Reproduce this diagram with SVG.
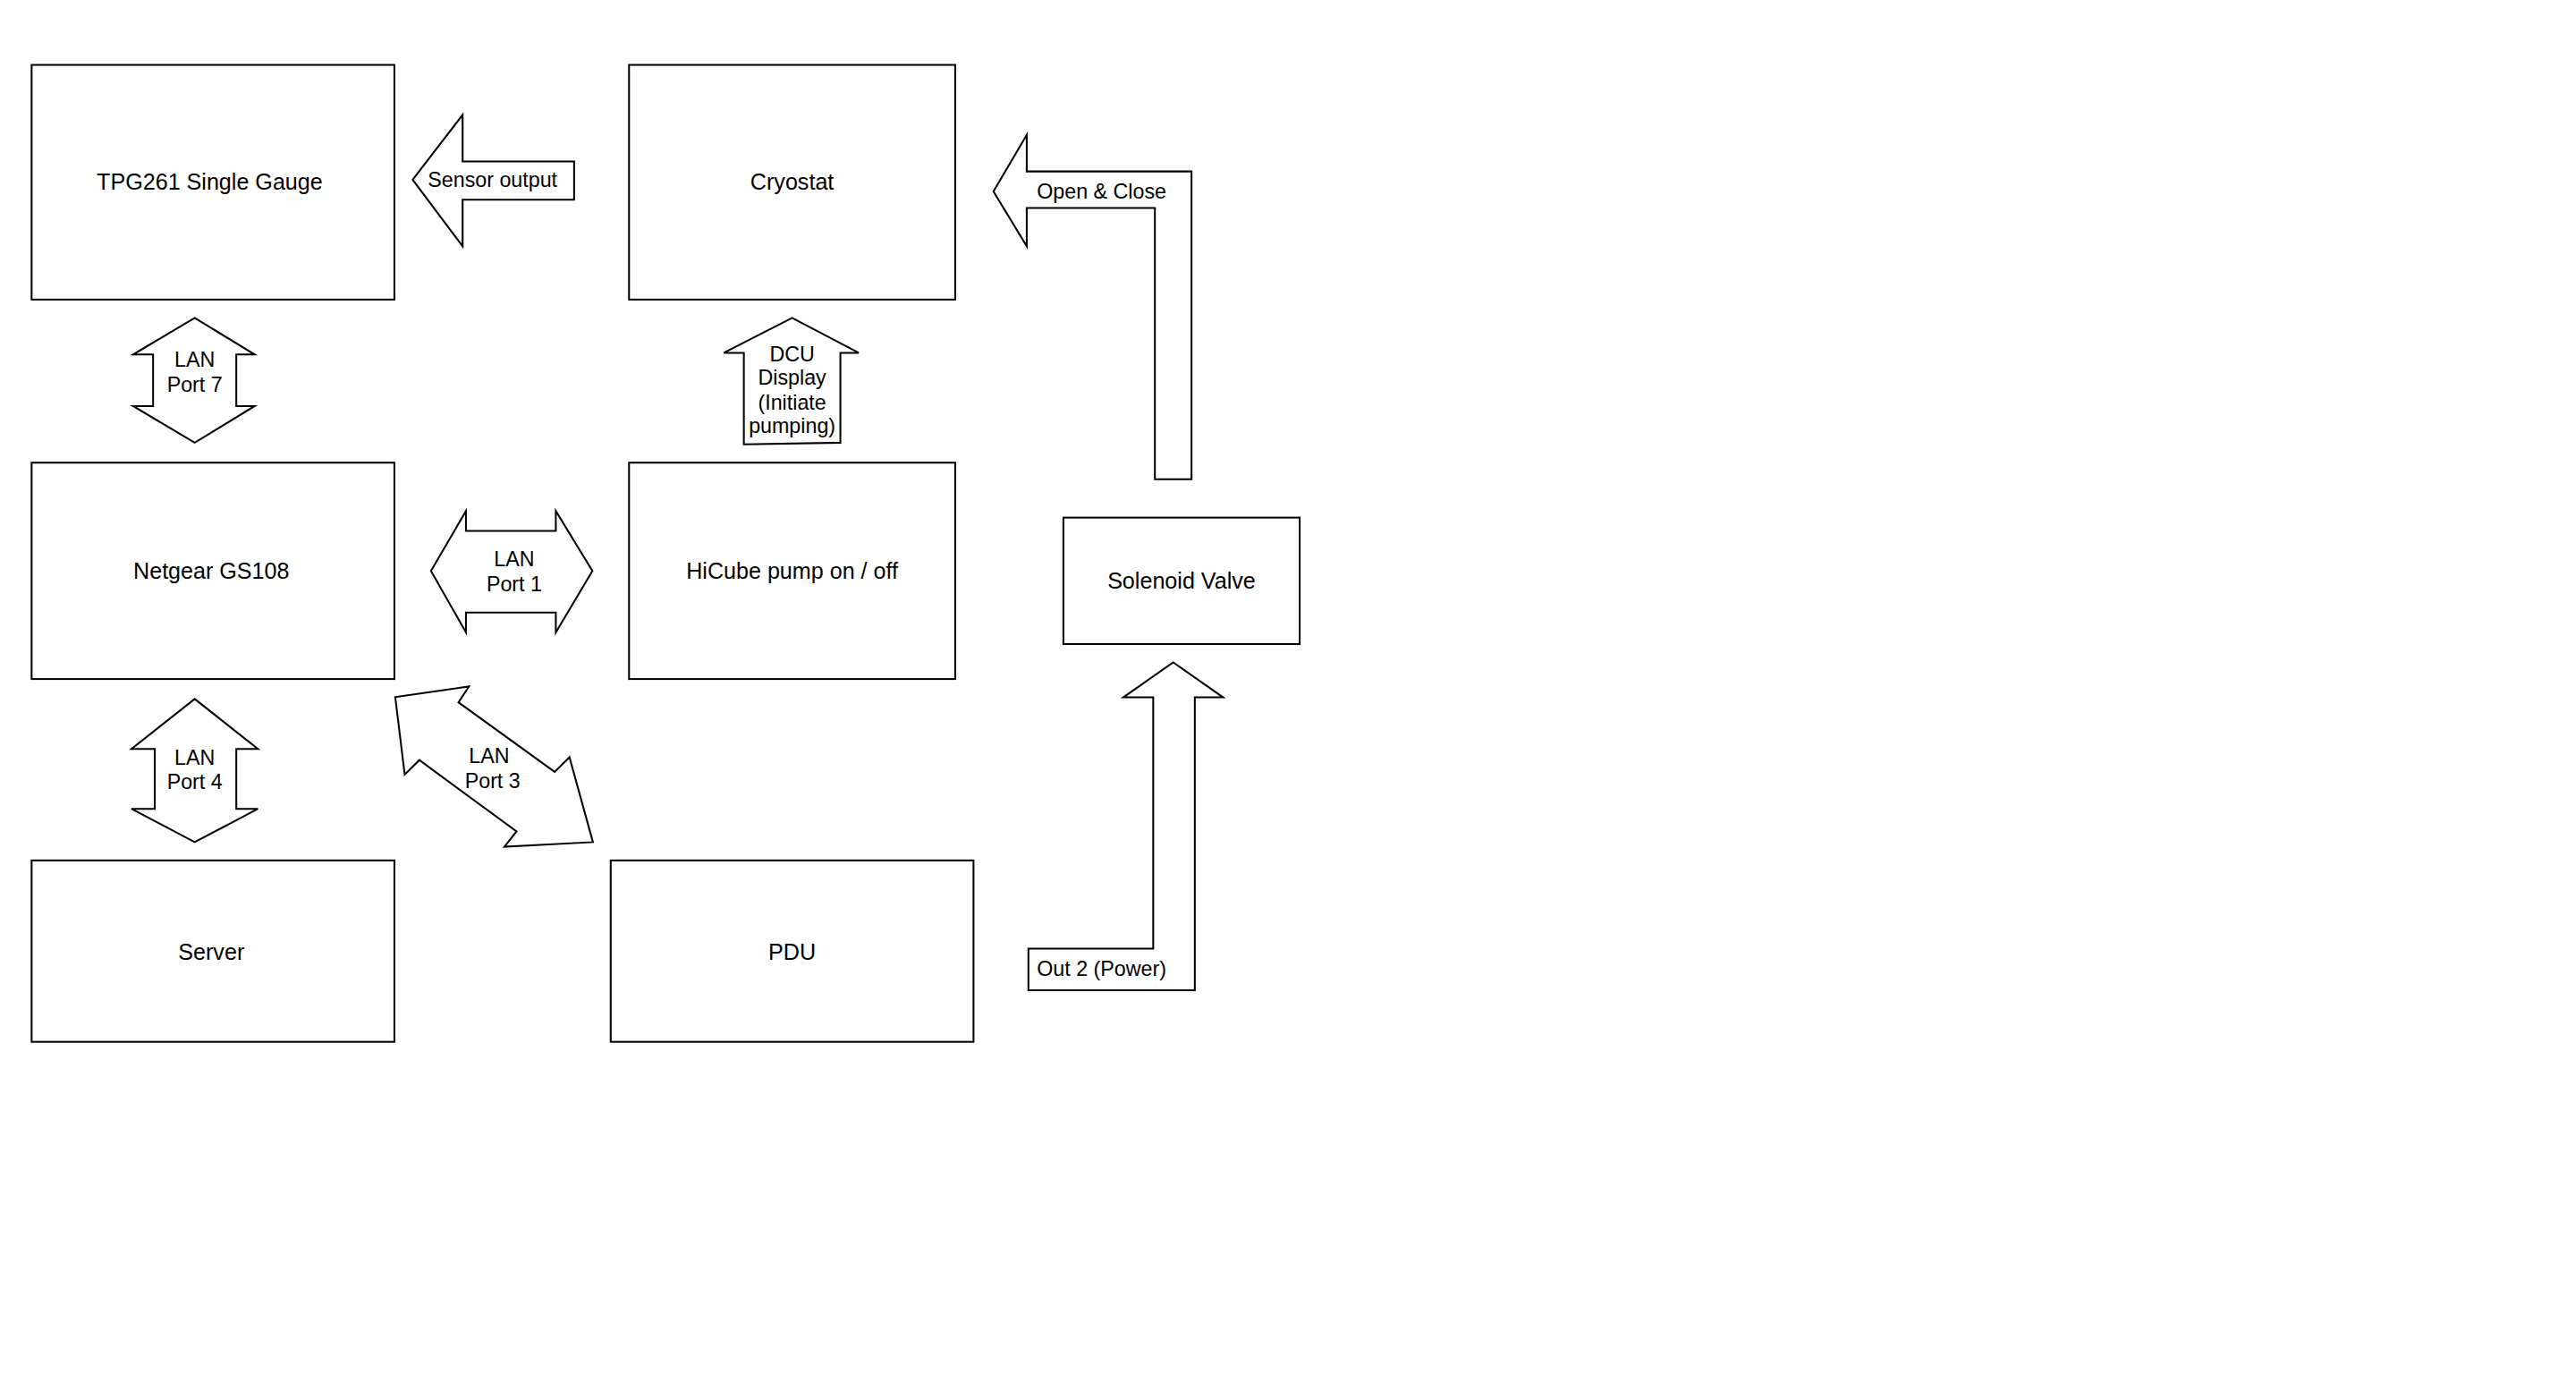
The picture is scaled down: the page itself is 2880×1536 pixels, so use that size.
<svg xmlns="http://www.w3.org/2000/svg" width="2880" height="1536" viewBox="0 0 2880 1536">
<style>
.n{fill:#fff;stroke:#000;stroke-width:1.1}
.a{fill:#fff;stroke:#000;stroke-width:1.1;stroke-linejoin:miter}
text{font-family:"Liberation Sans",Arial,sans-serif;fill:#000;text-anchor:middle;dominant-baseline:central}
.t{font-size:13.5px}
.s{font-size:12.5px}
</style>
<rect width="2880" height="1536" fill="#fff"/>
<g transform="scale(1.8605)">
<g id="tpg"><rect class="n" x="19" y="39" width="218" height="141"/><text class="t" x="126" y="109">TPG261 Single Gauge</text></g>
<g id="cryostat"><rect class="n" x="378" y="39" width="196" height="141"/><text class="t" x="476" y="109">Cryostat</text></g>
<g id="netgear"><rect class="n" x="19" y="278" width="218" height="130"/><text class="t" x="127" y="343">Netgear GS108</text></g>
<g id="hicube"><rect class="n" x="378" y="278" width="196" height="130"/><text class="t" x="476" y="343">HiCube pump on / off</text></g>
<g id="solenoid"><rect class="n" x="639" y="311" width="142" height="76"/><text class="t" x="710" y="349">Solenoid Valve</text></g>
<g id="server"><rect class="n" x="19" y="517" width="218" height="109"/><text class="t" x="127" y="572">Server</text></g>
<g id="pdu"><rect class="n" x="367" y="517" width="218" height="109"/><text class="t" x="476" y="572">PDU</text></g>
<g id="connectors">
<g><polygon class="a" points="248,108 278,69 278,97 345,97 345,120 278,120 278,148"/><text class="s" x="296" y="108">Sensor output</text></g>
<g><polygon class="a" points="597,115 617,81 617,103 716,103 716,288 694,288 694,125 617,125 617,148"/><text class="s" x="662" y="115">Open &amp; Close</text></g>
<g><polygon class="a" points="476,191 516,212 505,212 505,266 447,267 447,212 435,212"/><text class="s" x="476" y="213">DCU</text><text class="s" x="476" y="227">Display</text><text class="s" x="476" y="242">(Initiate</text><text class="s" x="476" y="256">pumping)</text></g>
<g><polygon class="a" points="117,191 153,213 142,213 142,244 153,244 117,266 80,244 92,244 92,213 80,213"/><text class="s" x="117" y="216">LAN</text><text class="s" x="117" y="231">Port 7</text></g>
<g><polygon class="a" points="259,343 280,307 280,319 334,319 334,307 356,343 334,380 334,368 280,368 280,380"/><text class="s" x="309" y="336">LAN</text><text class="s" x="309" y="351">Port 1</text></g>
<g><polygon class="a" points="117,420 155,450 142,450 142,486 155,486 117,506 79,486 93,486 93,450 79,450"/><text class="s" x="117" y="455">LAN</text><text class="s" x="117" y="470">Port 4</text></g>
<g><polygon class="a" points="237.5,418.8 281.8,412.5 275.5,422 333.3,463.8 342.2,455 356.3,506 303.1,508.8 310.4,499.6 252,456.7 243.2,465.4"/><text class="s" x="294" y="454">LAN</text><text class="s" x="296" y="469">Port 3</text></g>
<g><polygon class="a" points="618,570 693,570 693,419 675,419 705,398 735,419 718,419 718,595 618,595"/><text class="s" x="662" y="582">Out 2 (Power)</text></g>
</g>
</g>
</svg>
